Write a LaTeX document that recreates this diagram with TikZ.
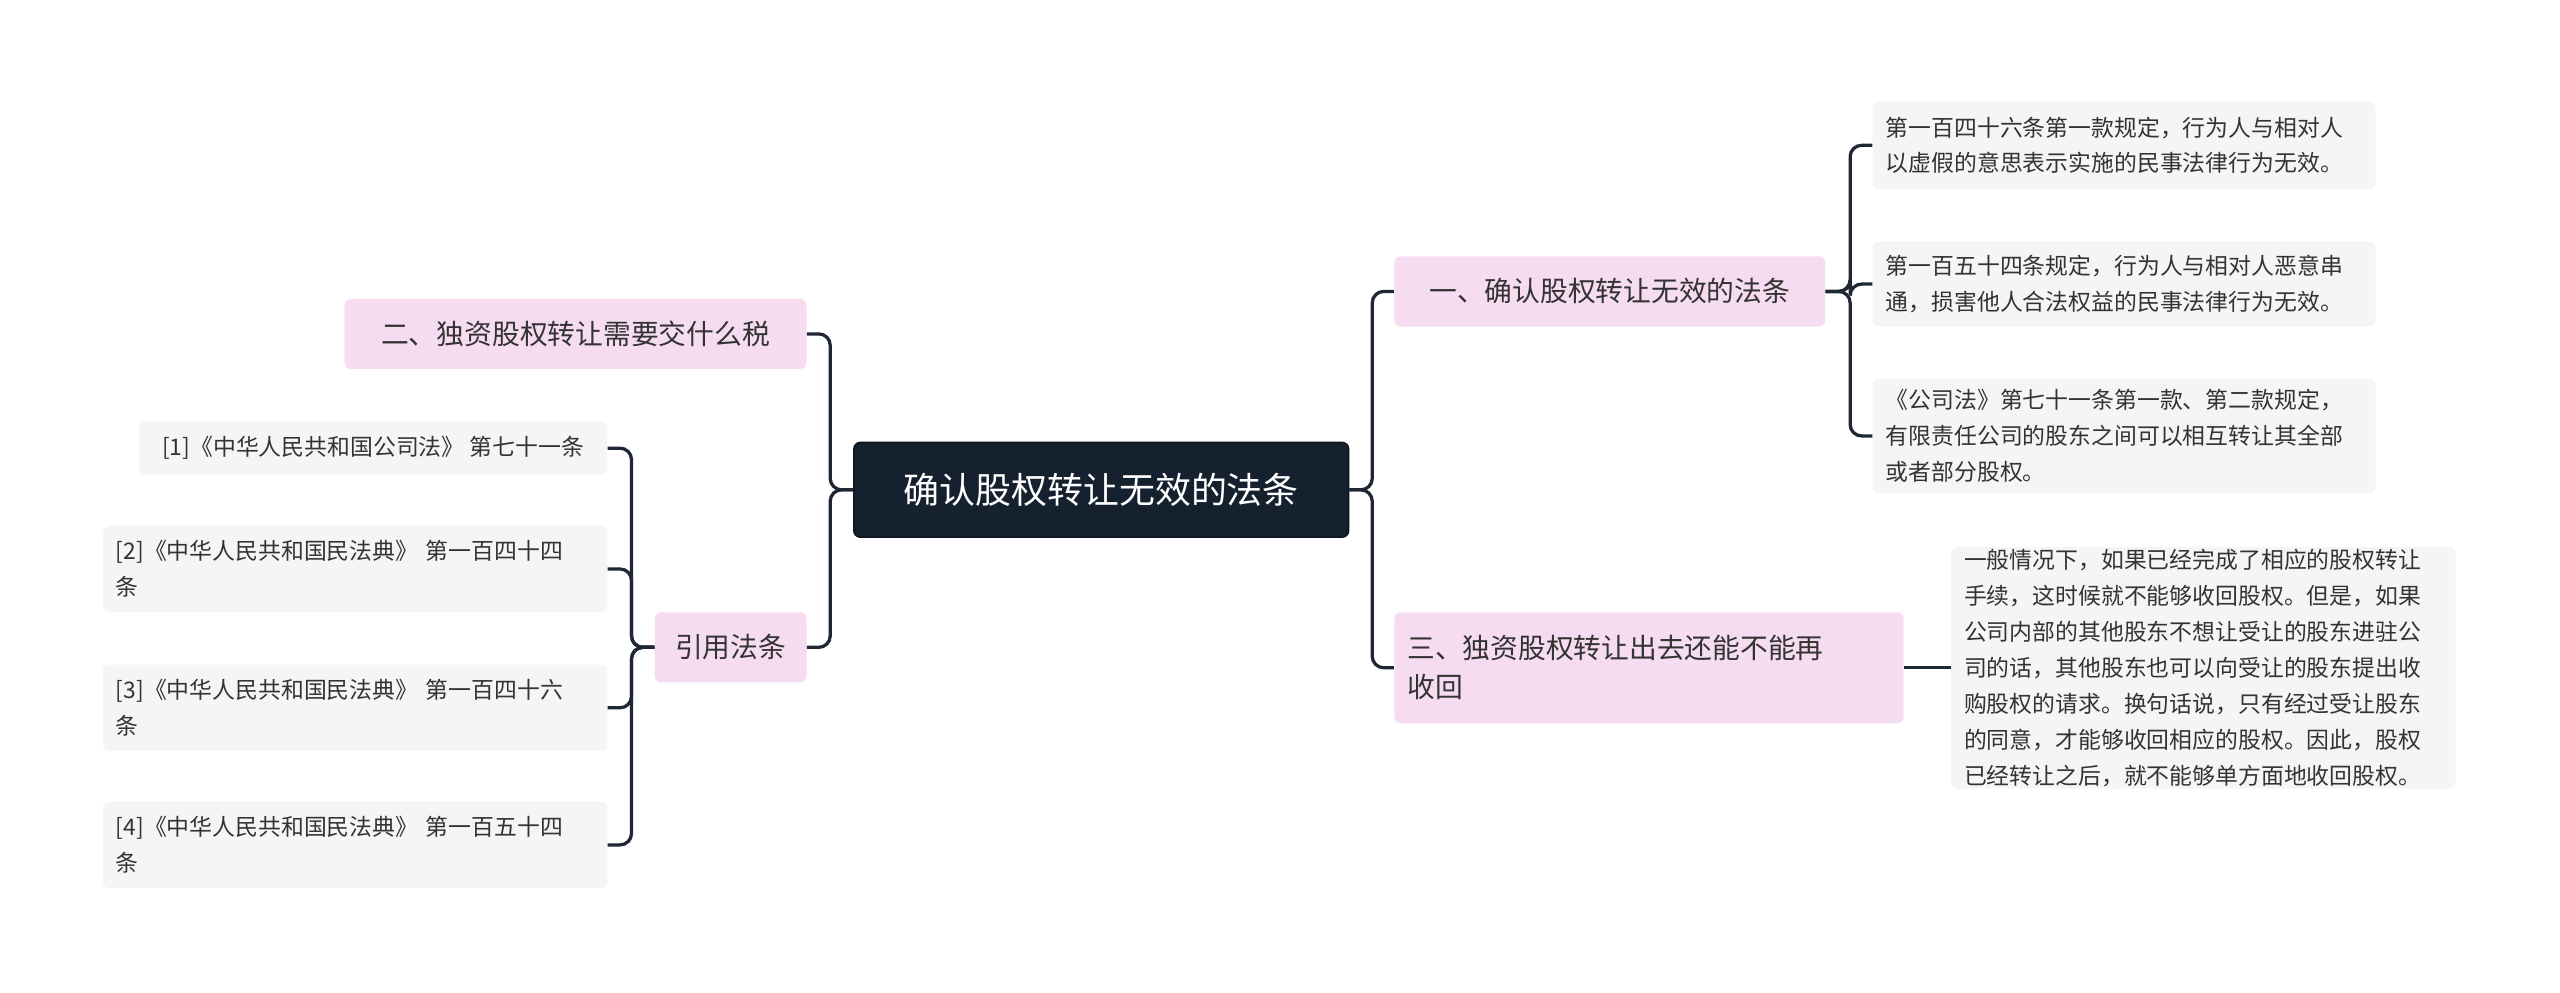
\documentclass[tikz,border=0pt]{standalone}
\usepackage{fontspec}
\setmainfont{Noto Sans CJK SC}
\begin{document}
\begin{tikzpicture}[x=1pt,y=-1pt,
  box/.style={rounded corners=4pt,inner sep=0pt},
  rootbox/.style={box,fill=rootc,draw=rootc!60!black,line width=1pt,text=white,font=\fontsize{22}{28}\selectfont},
  pinkbox/.style={box,fill=pinkc,text=textc,font=\fontsize{17}{24}\selectfont},
  leafbox/.style={box,fill=grayc,text=textc,font=\fontsize{14}{22}\selectfont},
  conn/.style={draw=linec,line width=2pt,rounded corners=7pt}]
\definecolor{rootc}{HTML}{16212F}
\definecolor{pinkc}{HTML}{F6DCF0}
\definecolor{grayc}{HTML}{F5F5F5}
\definecolor{textc}{HTML}{333333}
\definecolor{linec}{HTML}{1E2733}
\useasboundingbox (0,0) rectangle (1568,608);
\node[rootbox,minimum width=303pt,minimum height=58pt] (root) at (674.5,300) {确认股权转让无效的法条};
\node[pinkbox,minimum width=264pt,minimum height=43pt] (a) at (986,178.5) {一、确认股权转让无效的法条};
\node[pinkbox,minimum width=312pt,minimum height=68pt,text width=296pt,align=left] (c) at (1010,409) {三、独资股权转让出去还能不能再\\收回};
\node[pinkbox,minimum width=283pt,minimum height=43pt] (b) at (352.5,204.5) {二、独资股权转让需要交什么税};
\node[pinkbox,minimum width=93pt,minimum height=43pt] (d) at (447.5,396.5) {引用法条};
\node[leafbox,minimum width=308pt,minimum height=54pt,text width=292pt,align=left] (r1) at (1301,89) {第一百四十六条第一款规定，行为人与相对人\\以虚假的意思表示实施的民事法律行为无效。};
\node[leafbox,minimum width=308pt,minimum height=52pt,text width=292pt,align=left] (r2) at (1301,174) {第一百五十四条规定，行为人与相对人恶意串\\通，损害他人合法权益的民事法律行为无效。};
\node[leafbox,minimum width=308pt,minimum height=70pt,text width=292pt,align=left] (r3) at (1301,267) {《公司法》第七十一条第一款、第二款规定，\\有限责任公司的股东之间可以相互转让其全部\\或者部分股权。};
\node[leafbox,minimum width=309pt,minimum height=148pt,text width=293pt,align=left] (r4) at (1349.5,409) {一般情况下，如果已经完成了相应的股权转让\\手续，这时候就不能够收回股权。但是，如果\\公司内部的其他股东不想让受让的股东进驻公\\司的话，其他股东也可以向受让的股东提出收\\购股权的请求。换句话说，只有经过受让股东\\的同意，才能够收回相应的股权。因此，股权\\已经转让之后，就不能够单方面地收回股权。};
\node[leafbox,minimum width=287pt,minimum height=33pt] (l1) at (228.5,274.5) {[1]《中华人民共和国公司法》 第七十一条};
\node[leafbox,minimum width=309pt,minimum height=53pt,text width=293pt,align=left] (l2) at (217.5,348.5) {[2]《中华人民共和国民法典》 第一百四十四\\条};
\node[leafbox,minimum width=309pt,minimum height=53pt,text width=293pt,align=left] (l3) at (217.5,433.5) {[3]《中华人民共和国民法典》 第一百四十六\\条};
\node[leafbox,minimum width=309pt,minimum height=53pt,text width=293pt,align=left] (l4) at (217.5,517.5) {[4]《中华人民共和国民法典》 第一百五十四\\条};
\foreach \t in {a,c} \draw[conn] (root.east) -- ++(14,0) |- (\t.west);
\foreach \t in {b,d} \draw[conn] (root.west) -- ++(-14,0) |- (\t.east);
\foreach \t in {r1,r2,r3} \draw[conn] (a.east) -- ++(15,0) |- (\t.west);
\draw[conn] (c.east) -- (r4.west);
\foreach \t in {l1,l2,l3,l4} \draw[conn] (d.west) -- ++(-14,0) |- (\t.east);
\end{tikzpicture}
\end{document}
